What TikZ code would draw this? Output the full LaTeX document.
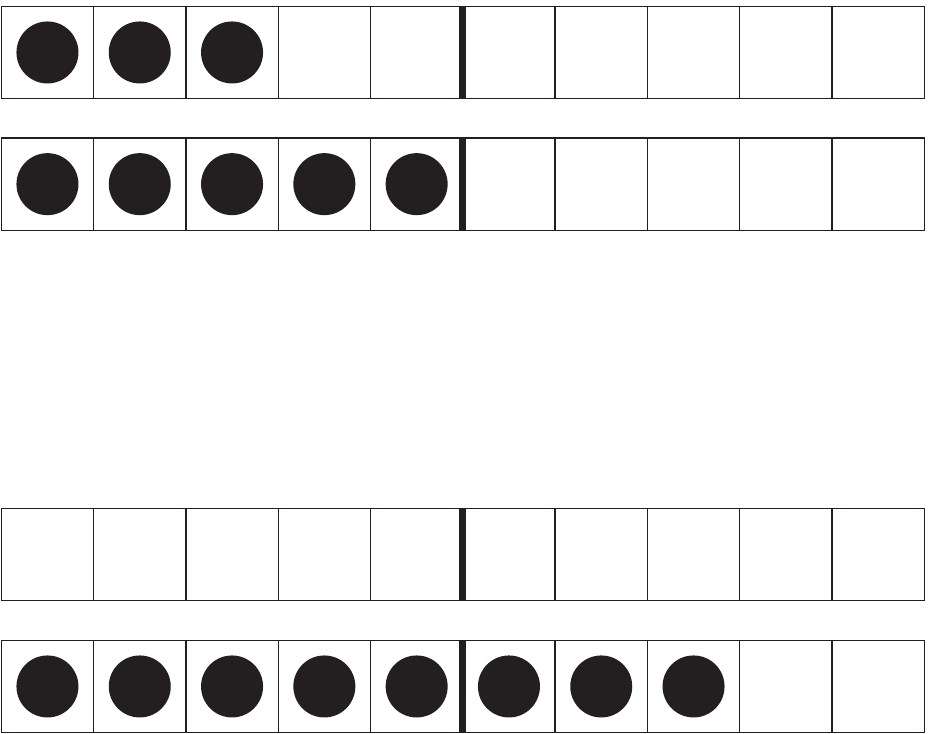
\documentclass[tikz,border=0pt]{standalone}
\definecolor{ink}{HTML}{231F20}
\begin{document}
\begin{tikzpicture}[x=1pt,y=-1pt,
  cellbox/.style={draw=ink,line width=1.4pt},
  dot/.style={fill=ink},
  divider/.style={draw=ink,line width=7pt}]
\useasboundingbox (0,0) rectangle (930,734);
\def\cw{92.3}
% rows: top y, number of dots
\foreach \ty/\n in {6.3/3, 138/5, 508.3/0, 640.3/8}{
  \foreach \i in {0,...,9}{
    \draw[cellbox] ({1.3+\i*\cw},\ty) rectangle ({1.3+(\i+1)*\cw},{\ty+\cw});
  }
  \ifnum\n>0
    \foreach \i in {1,...,\n}{
      \fill[dot] ({1.3+(\i-0.5)*\cw},{\ty+\cw/2}) circle (31);
    }
  \fi
  \draw[divider] ({1.3+5*\cw-0.5},\ty) -- ({1.3+5*\cw-0.5},{\ty+\cw});
}
\end{tikzpicture}
\end{document}
